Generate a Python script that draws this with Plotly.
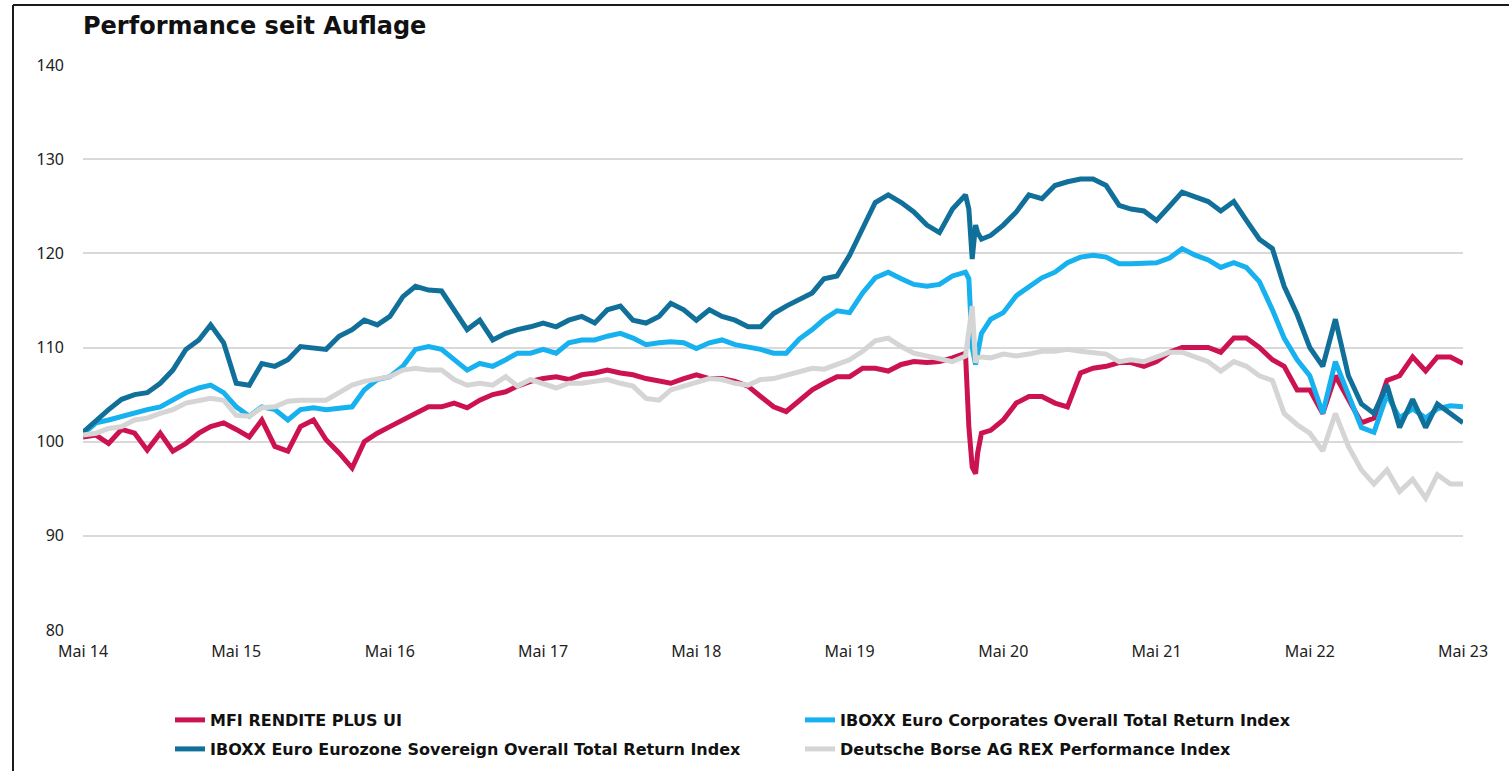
import plotly.graph_objects as go
import pandas as pd

# monatliche Stützstellen Mai 2014 - Mai 2023
months = pd.date_range("2014-05-01", "2023-05-01", freq="MS").strftime("%Y-%m-%d").tolist()

mfi = [100.5, 100.7, 99.8, 101.3, 100.9, 99.1, 100.9, 99.0, 99.8, 100.9, 101.6, 102.0,
       101.3, 100.5, 102.3, 99.5, 99.0, 101.6, 102.3, 100.2, 98.8, 97.2, 100.0, 100.9,
       101.6, 102.3, 103.0, 103.7, 103.7, 104.1, 103.6, 104.4, 105.0, 105.3, 105.9, 106.4,
       106.7, 106.9, 106.6, 107.1, 107.3, 107.6, 107.3, 107.1, 106.7, 106.4, 106.2, 106.7,
       107.1, 106.7, 106.7, 106.4, 105.9, 104.8, 103.7, 103.2, 104.4, 105.5, 106.2, 106.9,
       106.9, 107.8, 107.8, 107.5, 108.2, 108.5, 108.4, 108.5, 108.9, 109.4, 98.8, 101.2,
       102.3, 104.1, 104.8, 104.8, 104.1, 103.7, 107.3, 107.8, 108.0, 108.4, 108.4, 108.0,
       108.5, 109.5, 110.0, 110.0, 110.0, 109.5, 111.0, 111.0, 110.0, 108.7, 108.0, 105.5,
       105.5, 103.0, 107.0, 104.5, 102.0, 102.5, 106.5, 107.0, 109.0, 107.5, 109.0, 109.0,
       108.3]

corporates = [100.8, 102.0, 102.3, 102.7, 103.0, 103.4, 103.7, 104.4, 105.2, 105.7, 106.0, 105.2,
              103.7, 102.7, 103.7, 103.4, 102.3, 103.4, 103.6, 103.4, 103.6, 103.7, 105.5, 106.6,
              106.9, 108.0, 109.8, 110.1, 109.8, 108.7, 107.6, 108.3, 108.0, 108.7, 109.4, 109.4,
              109.8, 109.4, 110.5, 110.8, 110.8, 111.2, 111.5, 111.0, 110.3, 110.5, 110.6, 110.5,
              109.9, 110.5, 110.8, 110.3, 110.1, 109.8, 109.4, 109.4, 110.9, 111.9, 113.0, 113.9,
              113.7, 115.8, 117.4, 118.0, 117.3, 116.7, 116.5, 116.7, 117.6, 118.0, 109.5, 113.0,
              113.7, 115.5, 116.5, 117.4, 118.0, 119.0, 119.6, 119.8, 119.6, 118.9, 118.9, 119.0,
              119.0, 119.5, 120.5, 119.8, 119.3, 118.5, 119.0, 118.5, 117.0, 114.0, 111.0, 108.7,
              107.0, 103.0, 108.5, 105.0, 101.5, 101.0, 105.0, 102.5, 103.5, 102.5, 103.5, 103.8,
              103.7]

sovereign = [101.0, 102.3, 103.4, 104.5, 105.0, 105.2, 106.2, 107.6, 109.8, 110.8, 112.4, 110.5,
             106.2, 106.0, 108.3, 108.0, 108.7, 110.1, 109.9, 109.8, 111.2, 111.9, 112.9, 112.4,
             113.3, 115.4, 116.5, 116.1, 116.0, 114.0, 111.9, 112.9, 110.8, 111.5, 111.9, 112.2,
             112.6, 112.2, 112.9, 113.3, 112.6, 114.0, 114.4, 112.9, 112.6, 113.3, 114.7, 114.0,
             112.9, 114.0, 113.3, 112.9, 112.2, 112.2, 113.6, 114.4, 115.1, 115.8, 117.3, 117.6,
             119.8, 122.6, 125.4, 126.2, 125.4, 124.4, 123.0, 122.2, 124.7, 126.2, 122.2, 121.9,
             123.0, 124.4, 126.2, 125.8, 127.2, 127.6, 127.9, 127.9, 127.2, 125.1, 124.7, 124.5,
             123.5, 125.0, 126.5, 126.0, 125.5, 124.5, 125.5, 123.5, 121.5, 120.5, 116.5, 113.5,
             110.0, 108.0, 113.0, 107.0, 104.0, 103.0, 106.0, 101.5, 104.5, 101.5, 104.0, 103.0,
             102.0]

rex = [100.7, 100.9, 101.4, 101.6, 102.3, 102.5, 103.0, 103.4, 104.1, 104.3, 104.6, 104.4,
       102.8, 102.7, 103.6, 103.7, 104.3, 104.4, 104.4, 104.4, 105.2, 106.0, 106.4, 106.7,
       106.9, 107.6, 107.8, 107.6, 107.6, 106.6, 106.0, 106.2, 106.0, 106.9, 105.9, 106.6,
       106.2, 105.7, 106.2, 106.2, 106.4, 106.6, 106.2, 105.9, 104.6, 104.4, 105.5, 105.9,
       106.2, 106.7, 106.6, 106.2, 106.0, 106.6, 106.7, 107.1, 107.5, 107.8, 107.7, 108.2,
       108.7, 109.6, 110.7, 111.0, 110.1, 109.4, 109.1, 108.7, 108.5, 109.1, 108.9, 108.9,
       109.3, 109.1, 109.3, 109.6, 109.6, 109.8, 109.6, 109.4, 109.3, 108.5, 108.7, 108.5,
       109.0, 109.5, 109.5, 109.0, 108.5, 107.5, 108.5, 108.0, 107.0, 106.5, 103.0, 101.8,
       100.9, 99.0, 103.0, 99.5, 97.0, 95.5, 97.0, 94.7, 96.0, 94.0, 96.5, 95.5,
       95.5]

# zusätzliche Stützstellen im Corona-Einbruch Feb/Mär 2020
crash_dates = ["2020-02-09", "2020-02-17", "2020-02-25", "2020-03-10"]
mfi_crash = [101.6, 97.3, 96.6, 100.9]
corporates_crash = [117.3, 110.0, 108.2, 111.5]
sovereign_crash = [124.7, 119.4, 123.0, 121.5]
rex_crash = [112.0, 114.4, 108.4, 109.0]

tick_dates = ["2014-05-01", "2015-05-01", "2016-05-01", "2017-05-01", "2018-05-01",
              "2019-05-01", "2020-05-01", "2021-05-01", "2022-05-01", "2023-05-01"]
tick_labels = ["Mai 14", "Mai 15", "Mai 16", "Mai 17", "Mai 18",
               "Mai 19", "Mai 20", "Mai 21", "Mai 22", "Mai 23"]

names = ["MFI RENDITE PLUS UI",
         "IBOXX Euro Corporates Overall Total Return Index",
         "IBOXX Euro Eurozone Sovereign Overall Total Return Index",
         "Deutsche Borse AG REX Performance Index"]
colors = ["#CC1350", "#16B1EE", "#11709A", "#D5D5D5"]


def merge(values, extra):
    s = pd.Series(values + extra, index=pd.to_datetime(months + crash_dates))
    return s.sort_index()


series = [merge(mfi, mfi_crash), merge(corporates, corporates_crash),
          merge(sovereign, sovereign_crash), merge(rex, rex_crash)]

# Pixel -> Papierkoordinaten
W, H = 1509, 771
L, R, T, B = 83, 46, 65, 141
pw, ph = W - L - R, H - T - B


def px_x(x):
    return (x - L) / pw


def px_y(y):
    return (H - B - y) / ph


# eine Legende pro Eintrag, zwei Spalten / zwei Zeilen
legend_pos = [(170, 720), (800, 720), (170, 749), (800, 749)]
legend_keys = ["legend", "legend2", "legend3", "legend4"]

fig = go.Figure()
for s, name, col, key in zip(series, names, colors, legend_keys):
    fig.add_trace(go.Scatter(x=s.index, y=s.values, mode="lines", name=name,
                             line=dict(color=col, width=5), legend=key, showlegend=True))

legend_font = dict(family="DejaVu Sans", size=16, color="#111", weight=600)
for key, (lx, ly) in zip(legend_keys, legend_pos):
    fig.update_layout({key: dict(x=px_x(lx), y=px_y(ly), xanchor="left", yanchor="middle",
                                 font=legend_font, bgcolor="rgba(0,0,0,0)", visible=True)})

fig.update_layout(
    width=W, height=H,
    showlegend=True,
    margin=dict(l=L, r=R, t=T, b=B, autoexpand=False),
    paper_bgcolor="white", plot_bgcolor="white",
    font=dict(family="Noto Sans", size=16, color="#222"),
    title=dict(text="Performance seit Auflage", x=0, xref="paper", xanchor="left",
               y=1 - 26 / H, yref="container", yanchor="middle",
               font=dict(family="DejaVu Sans", size=24, color="#111", weight=600)),
    xaxis=dict(type="date", range=["2014-05-01", "2023-05-01"], tickvals=tick_dates,
               ticktext=tick_labels, showgrid=False, zeroline=False, showline=False,
               ticks="", ticklabelstandoff=10),
    yaxis=dict(range=[80, 140], dtick=10, showgrid=True, gridcolor="#D9D9D9", gridwidth=2,
               zeroline=False, showline=False, ticks="", ticklabelstandoff=18),
)

# Rahmen oben und links
fig.add_shape(type="line", xref="paper", yref="paper", x0=px_x(13), x1=px_x(1515),
              y0=px_y(5), y1=px_y(5), line=dict(color="#1a1a1a", width=2))
fig.add_shape(type="line", xref="paper", yref="paper", x0=px_x(13), x1=px_x(13),
              y0=px_y(5), y1=px_y(780), line=dict(color="#1a1a1a", width=2))

fig.write_html("out.html", config={"displayModeBar": False},
               post_script="document.body.style.margin='0px';")
